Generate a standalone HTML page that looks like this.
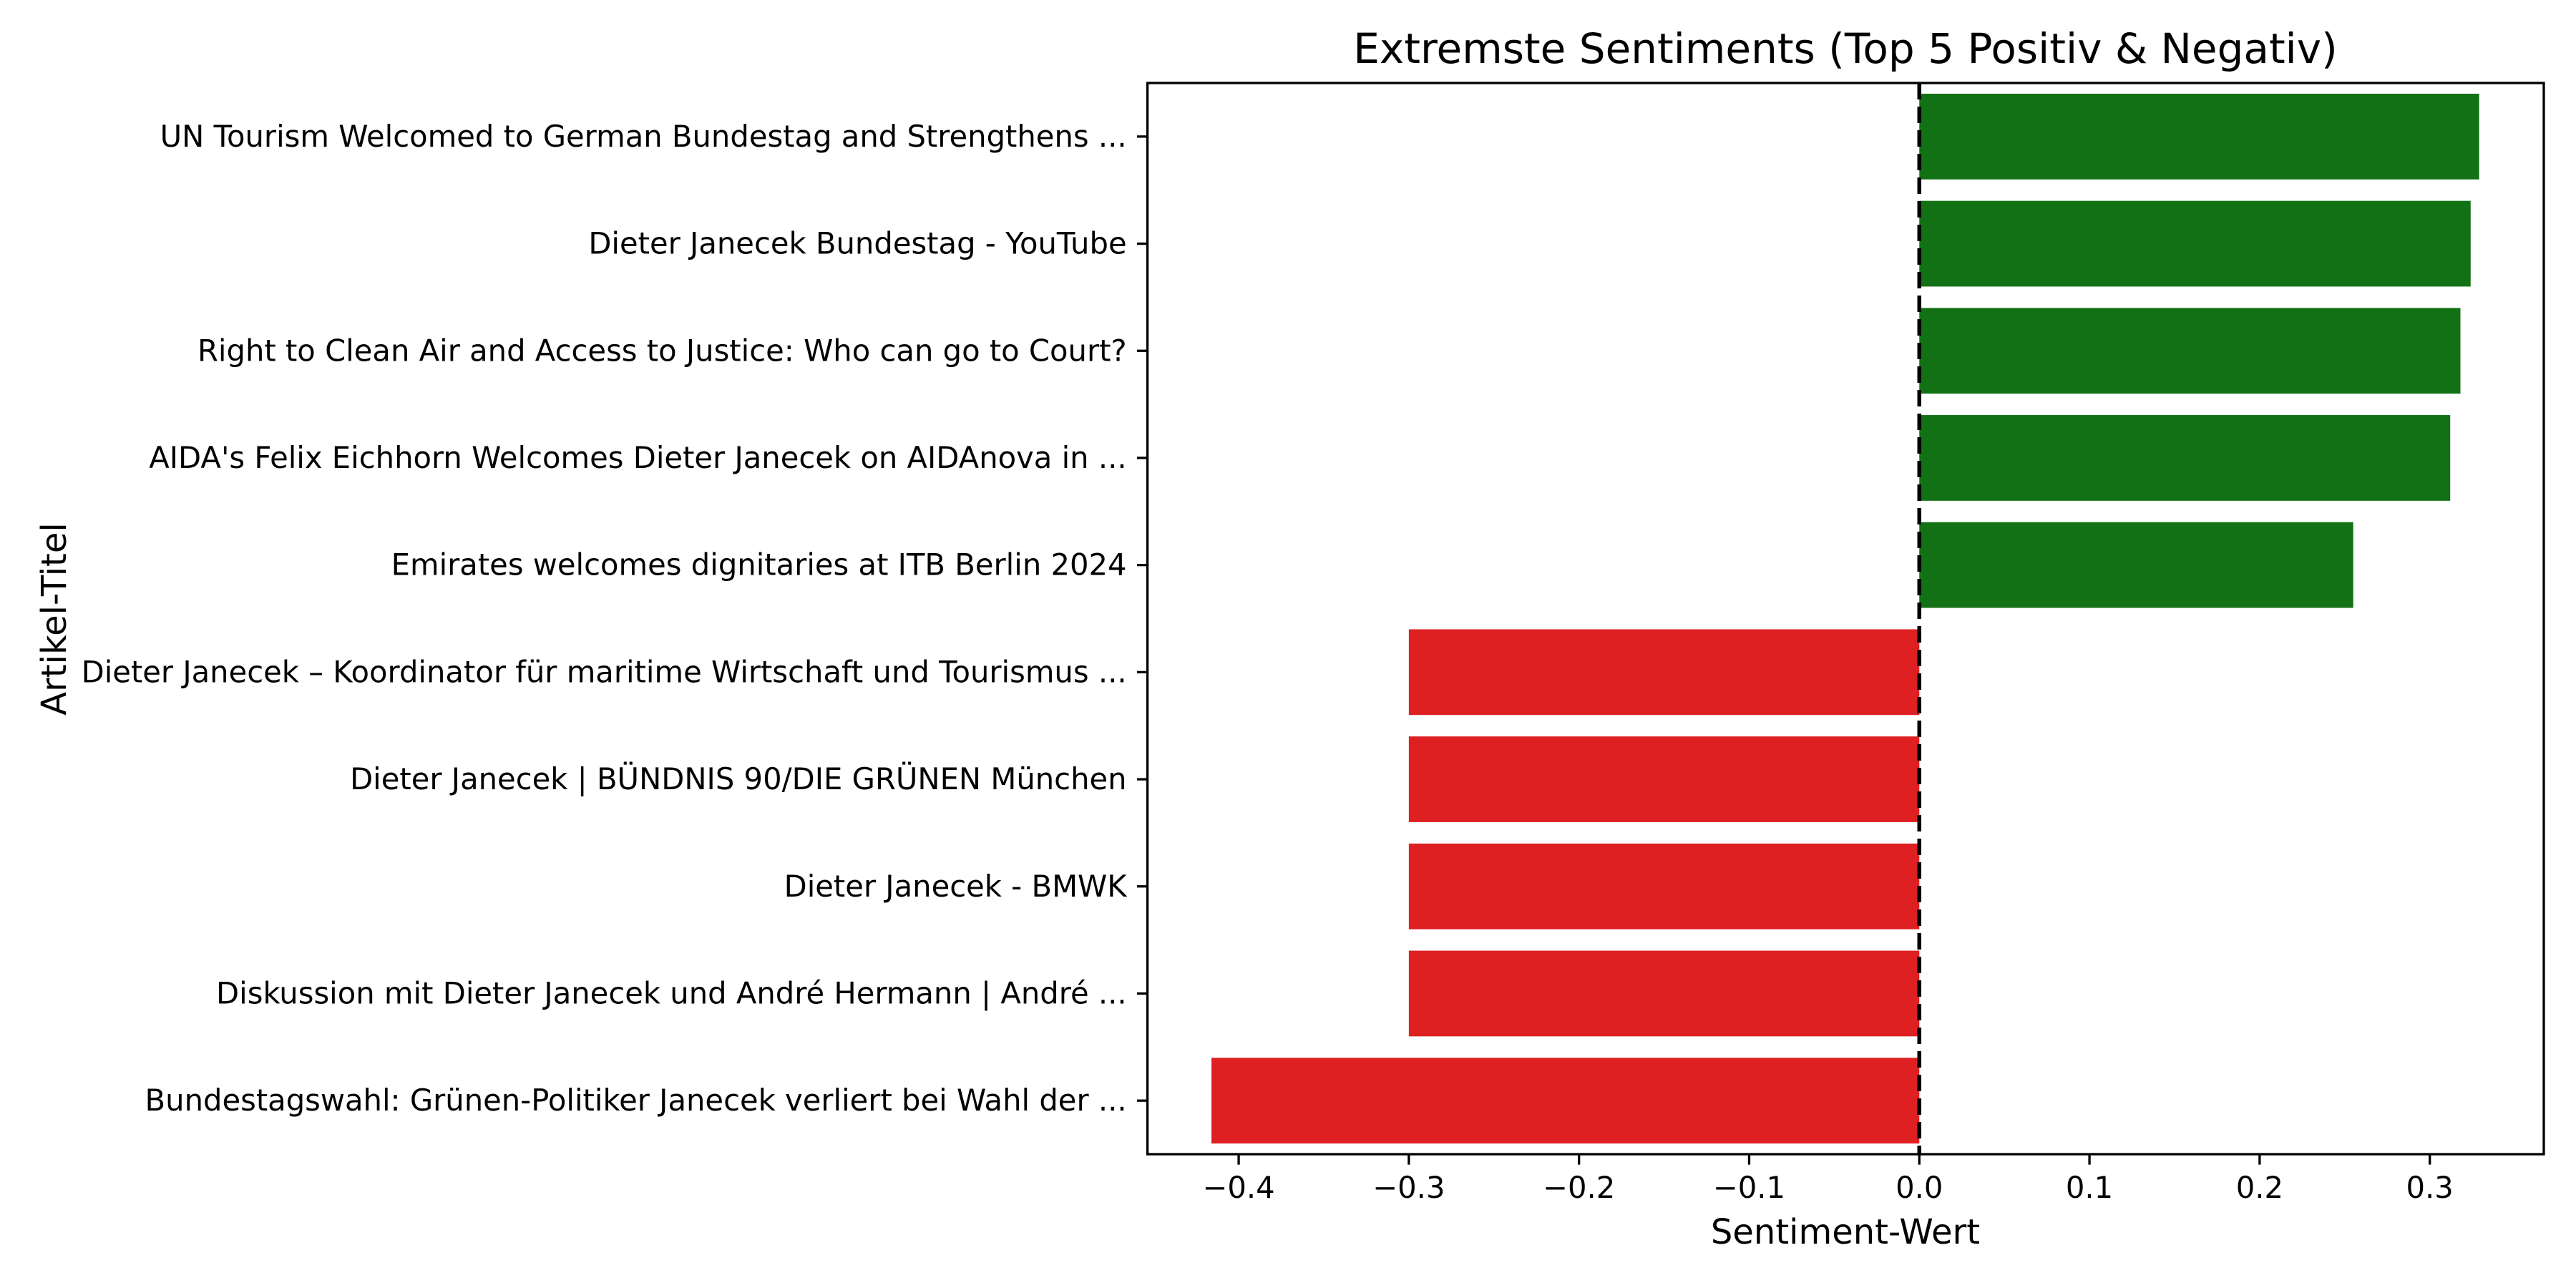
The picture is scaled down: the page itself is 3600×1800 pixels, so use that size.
<!DOCTYPE html>
<html><head><meta charset="utf-8"><style>
html,body{margin:0;padding:0;background:#fff}
svg{display:block;font-family:"DejaVu Sans","Liberation Sans",sans-serif}
</style></head><body>
<svg id="chart" width="3600" height="1800" viewBox="0 0 3600 1800" xmlns="http://www.w3.org/2000/svg">
<rect width="3600" height="1800" fill="#fff"/>
<text x="2579" y="88" font-size="58" text-anchor="middle">Extremste Sentiments (Top 5 Positiv &amp; Negativ)</text>
<text x="2579" y="1738" font-size="48" text-anchor="middle">Sentiment-Wert</text>
<text transform="translate(92,865) rotate(-90)" font-size="48" text-anchor="middle">Artikel-Titel</text>
<g id="bars"></g>
<g id="zero"></g>
<g id="yticks"></g>
<g id="xticks"></g>
<rect x="1603.6" y="116" width="1951.4" height="1497" fill="none" stroke="#000" stroke-width="3.3"/>
</svg>
<script>
const categories = [
"UN Tourism Welcomed to German Bundestag and Strengthens ...",
"Dieter Janecek Bundestag - YouTube",
"Right to Clean Air and Access to Justice: Who can go to Court?",
"AIDA's Felix Eichhorn Welcomes Dieter Janecek on AIDAnova in ...",
"Emirates welcomes dignitaries at ITB Berlin 2024",
"Dieter Janecek – Koordinator für maritime Wirtschaft und Tourismus ...",
"Dieter Janecek | BÜNDNIS 90/DIE GRÜNEN München",
"Dieter Janecek - BMWK",
"Diskussion mit Dieter Janecek und André Hermann | André ...",
"Bundestagswahl: Grünen-Politiker Janecek verliert bei Wahl der ..."
];
const sentimentValues = [0.329, 0.324, 0.318, 0.312, 0.255, -0.3, -0.3, -0.3, -0.3, -0.416];
const xTickValues = [-0.4, -0.3, -0.2, -0.1, 0.0, 0.1, 0.2, 0.3];
const xTickLabels = ["\u22120.4","\u22120.3","\u22120.2","\u22120.1","0.0","0.1","0.2","0.3"];

const NS = "http://www.w3.org/2000/svg";
const L = 1603.6, R = 3555, T = 116, B = 1613;
const xMin = -0.4536, xMax = 0.367;
const xs = v => L + (v - xMin) / (xMax - xMin) * (R - L);
const band = (B - T) / categories.length;
const yc = i => T + (i + 0.5) * band;
function mk(tag, attrs, parent) {
  const e = document.createElementNS(NS, tag);
  for (const k in attrs) e.setAttribute(k, attrs[k]);
  parent.appendChild(e);
  return e;
}
const gb = document.getElementById('bars');
sentimentValues.forEach((v, i) => {
  const x0 = xs(0), x1 = xs(v);
  const r = mk('rect', {x: Math.min(x0, x1), y: yc(i) - band * 0.4, width: Math.abs(x1 - x0), height: band * 0.8, fill: v >= 0 ? '#127115' : '#de2023'}, gb);
  
  
});
const gz = document.getElementById('zero');
const zl = mk('line', {x1: xs(0), x2: xs(0), y1: T, y2: B, stroke: '#000', 'stroke-width': 5.5, 'stroke-dasharray': '23 10'}, gz);


const gy = document.getElementById('yticks');
categories.forEach((c, i) => {
  const y = yc(i);
  const tk = mk('line', {x1: L - 14.6, x2: L, y1: y, y2: y, stroke: '#000', 'stroke-width': 3.3}, gy);
  
  
  const t = mk('text', {x: L - 29, y: y + 14, 'font-size': 41.7, 'text-anchor': 'end'}, gy);
  t.textContent = c;
  
  
});
const gx = document.getElementById('xticks');
xTickValues.forEach((v, i) => {
  const x = xs(v);
  const tk = mk('line', {x1: x, x2: x, y1: B, y2: B + 14.6, stroke: '#000', 'stroke-width': 3.3}, gx);
  
  
  const t = mk('text', {x: x, y: 1674, 'font-size': 41.7, 'text-anchor': 'middle'}, gx);
  t.textContent = xTickLabels[i];
  
  
});
</script>
</body></html>
